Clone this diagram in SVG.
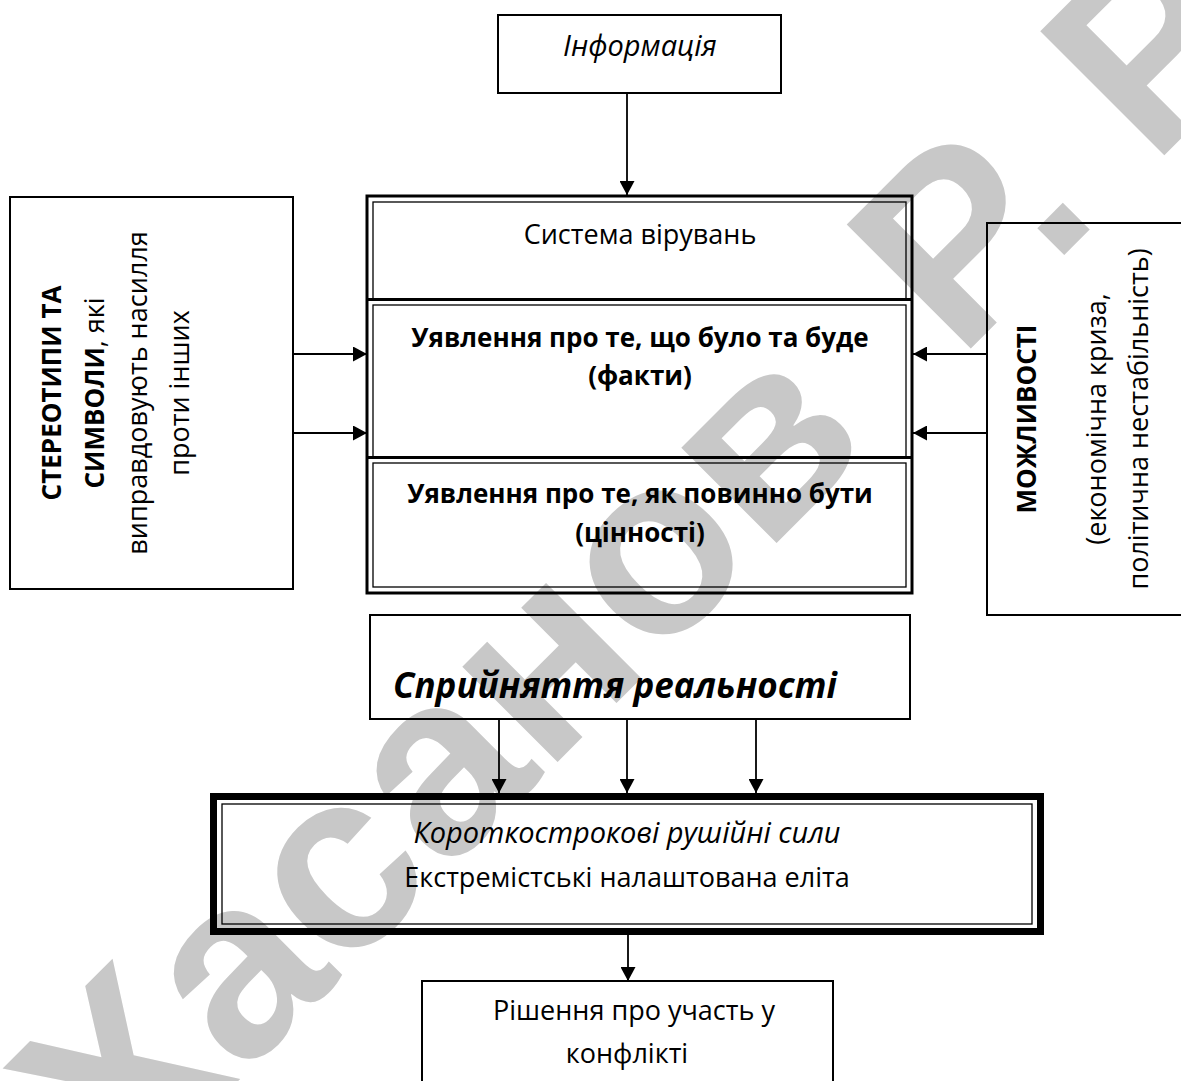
<svg xmlns="http://www.w3.org/2000/svg" width="1181" height="1081" viewBox="0 0 1181 1081">
  <defs>
    <marker id="arrow" viewBox="0 0 14 15" refX="14" refY="7.5" markerWidth="14" markerHeight="15" markerUnits="userSpaceOnUse" orient="auto">
      <path d="M0,0 L14,7.5 L0,15 Z" fill="#000"/>
    </marker>
    <style>
      .box { fill: none; stroke: #000; stroke-width: 2; }
      .thick { fill: none; stroke: #000; stroke-width: 3; }
      .thin { fill: none; stroke: #000; stroke-width: 1.3; }
      .heavy { fill: none; stroke: #000; stroke-width: 7; }
      .conn { stroke: #000; stroke-width: 1.8; fill: none; marker-end: url(#arrow); }
      text { font-family: "Open Sans", "Noto Sans", sans-serif; fill: #000; }
      .t { font-size: 27px; text-anchor: middle; }
      .b { font-weight: bold; font-size: 26px; }
      .i { font-style: italic; font-size: 29px; }
      .bi { font-weight: bold; font-style: italic; font-size: 35px; }
      .wm { font-family: "Liberation Sans", Arial, sans-serif; font-weight: bold; font-size: 255px; fill: #c8c8c8; }
    </style>
  </defs>

  <rect width="1181" height="1081" fill="#fff"/>

  <!-- watermark -->
  <text class="wm" transform="rotate(-45)" x="-761" y="933">Хасанов <tspan dx="48">Р. Р.</tspan></text>

  <!-- connectors -->
  <g id="connectors">
    <line class="conn" x1="627" y1="93" x2="627" y2="195"/>
    <line class="conn" x1="293" y1="354" x2="367" y2="354"/>
    <line class="conn" x1="293" y1="433" x2="367" y2="433"/>
    <line class="conn" x1="987" y1="354" x2="913" y2="354"/>
    <line class="conn" x1="987" y1="433" x2="913" y2="433"/>
    <line class="conn" x1="499" y1="719" x2="499" y2="793"/>
    <line class="conn" x1="627" y1="719" x2="627" y2="793"/>
    <line class="conn" x1="756" y1="719" x2="756" y2="793"/>
    <line class="conn" x1="628" y1="935" x2="628" y2="981"/>
  </g>

  <g id="information">
    <rect class="box" x="498" y="15" width="283" height="78"/>
    <text class="t i" x="640" y="56">Інформація</text>
  </g>

  <g id="belief-system">
    <rect class="thick" x="367" y="196" width="545" height="397"/>
    <line class="thick" x1="367" y1="299.5" x2="912" y2="299.5"/>
    <line class="thick" x1="367" y1="457.5" x2="912" y2="457.5"/>
    <rect class="thin" x="373" y="202" width="533" height="97"/>
    <rect class="thin" x="373" y="305" width="533" height="152"/>
    <rect class="thin" x="373" y="463" width="533" height="124"/>
    <text class="t" x="640" y="244">Система вірувань</text>
    <text class="t b" x="640" y="347">Уявлення про те, що було та буде</text>
    <text class="t b" x="640" y="385">(факти)</text>
    <text class="t b" x="640" y="503">Уявлення про те, як повинно бути</text>
    <text class="t b" x="640" y="542">(цінності)</text>
  </g>

  <g id="stereotypes">
    <rect class="box" x="10" y="197" width="283" height="392"/>
    <g transform="translate(0,393) rotate(-90)">
      <text class="t b" x="0" y="61">СТЕРЕОТИПИ ТА</text>
      <text class="t" x="0" y="104"><tspan class="b">СИМВОЛИ</tspan>, які</text>
      <text class="t" x="0" y="147">виправдовують насилля</text>
      <text class="t" x="0" y="189">проти інших</text>
    </g>
  </g>

  <g id="opportunities">
    <rect class="box" x="987" y="223" width="210" height="392"/>
    <g transform="translate(0,419) rotate(-90)">
      <text class="t b" x="0" y="1036">МОЖЛИВОСТІ</text>
      <text class="t" x="0" y="1106">(економічна криза,</text>
      <text class="t" x="0" y="1148">політична нестабільність)</text>
    </g>
  </g>

  <g id="perception">
    <rect class="box" x="370" y="615" width="540" height="104"/>
    <text class="bi" x="393" y="698">Сприйняття реальності</text>
  </g>

  <g id="driving-forces">
    <rect class="heavy" x="213.5" y="796.5" width="827" height="135"/>
    <rect class="thin" x="222" y="804" width="810" height="120"/>
    <text class="t i" x="627" y="843">Короткострокові рушійні сили</text>
    <text class="t" x="627" y="887">Екстремістські налаштована еліта</text>
  </g>

  <g id="decision">
    <rect class="box" x="422" y="981" width="411" height="120"/>
    <text class="t" x="634" y="1020">Рішення про участь у</text>
    <text class="t" x="627" y="1063">конфлікті</text>
  </g>
</svg>
